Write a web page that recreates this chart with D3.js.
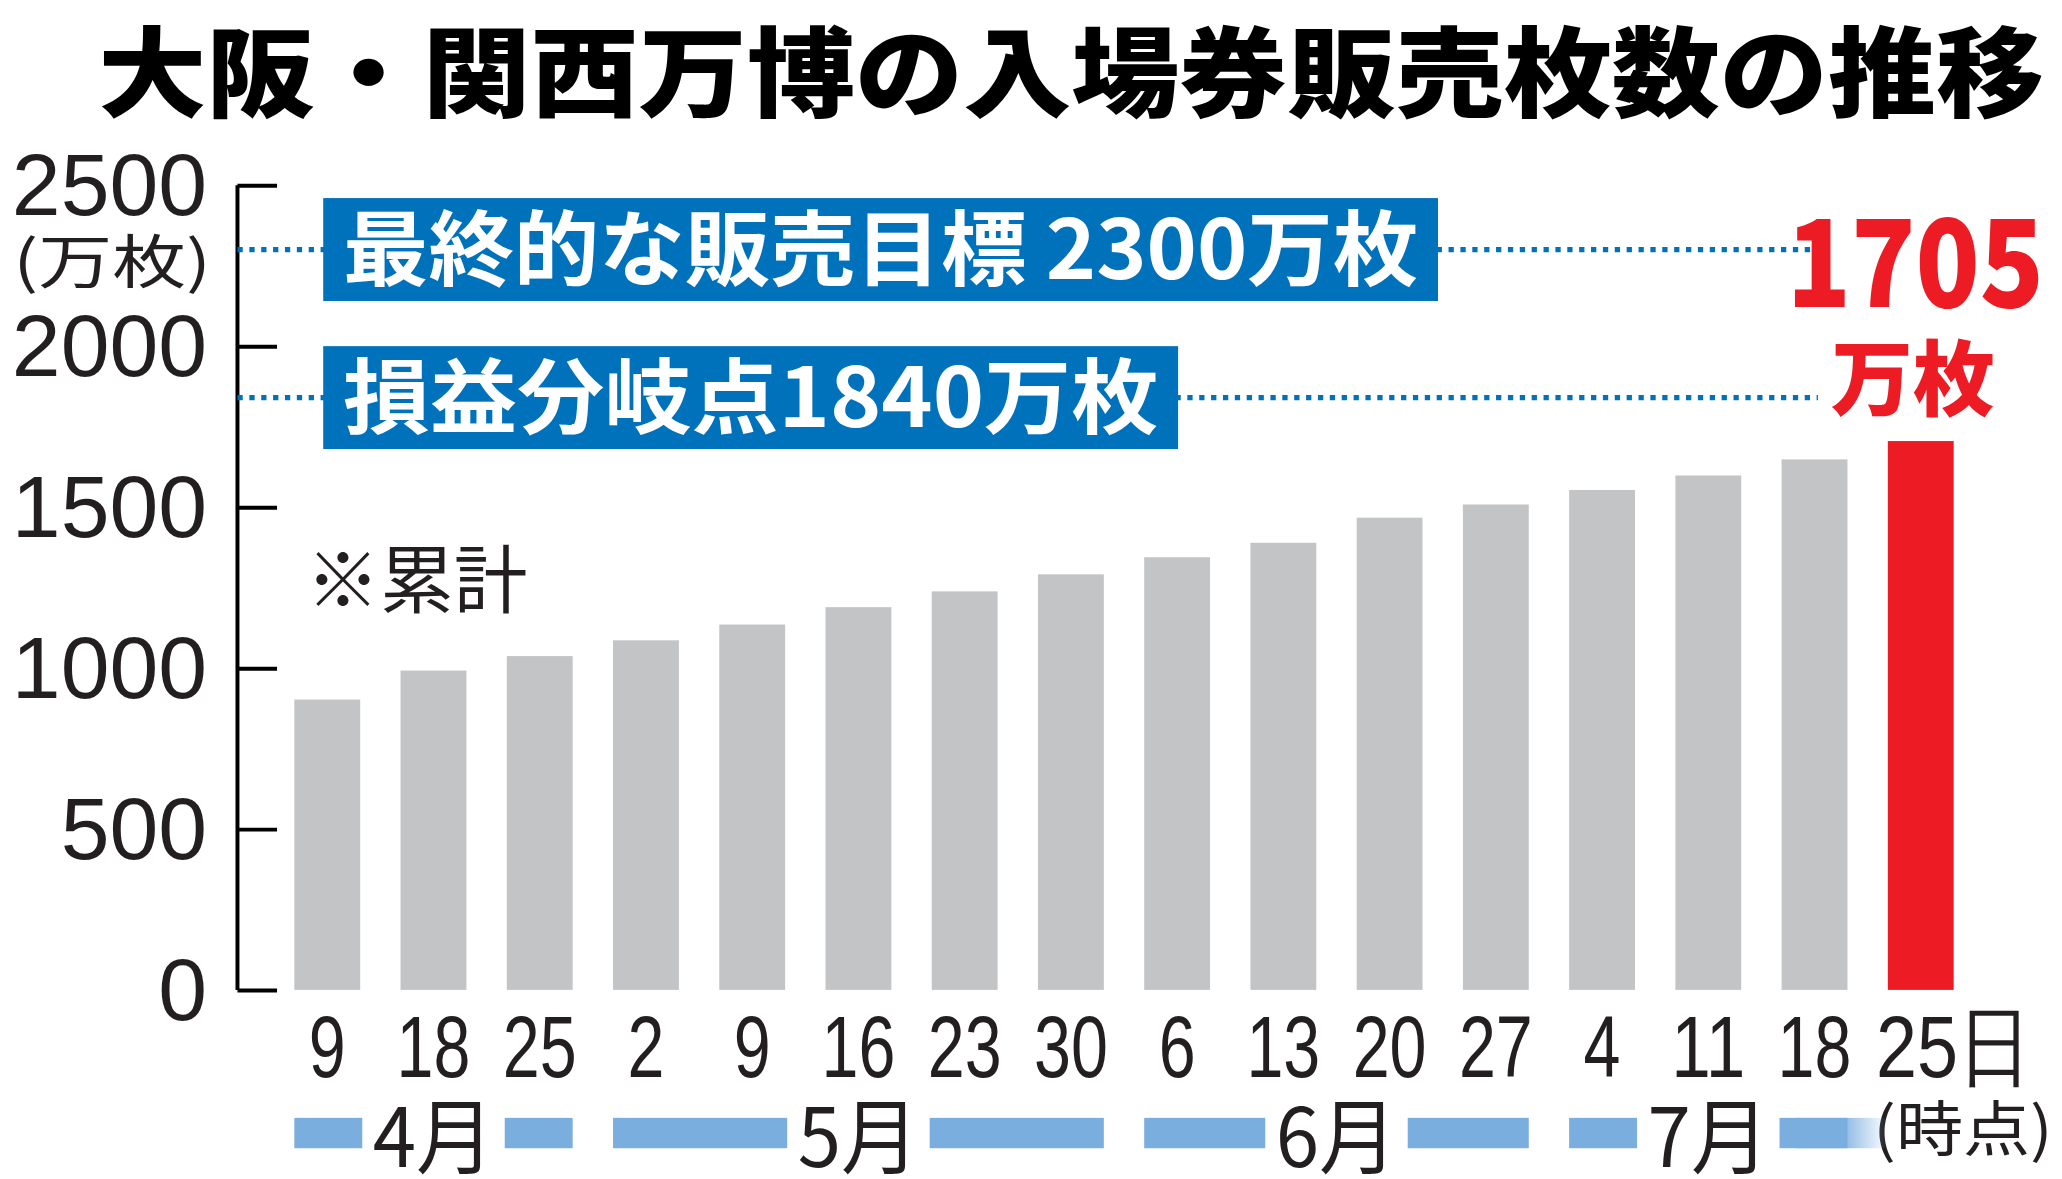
<!DOCTYPE html>
<html>
<head>
<meta charset="utf-8">
<script src="https://d3js.org/d3.v7.min.js"></script>
<style>
  body { margin: 0; background: #fff; }
  .jp { font-family: "Noto Sans CJK JP", sans-serif; }
  .num { font-family: "Liberation Sans", "DejaVu Sans", sans-serif; }
</style>
</head>
<body>
<div id="chart"></div>
<script>
const days = ["9", "18", "25", "2", "9", "16", "23", "30", "6", "13", "20", "27", "4", "11", "18", "25日"];
const sales = [902, 992, 1037, 1086, 1135, 1189, 1238, 1291, 1344, 1389, 1467, 1508, 1553, 1598, 1648, 1705];
const yTicks = [0, 500, 1000, 1500, 2000, 2500];
const targets = [
    { value: 2300, label: "最終的な販売目標 2300万枚" },
    { value: 1840, label: "損益分岐点1840万枚" }
];
const months = [
    { label: "4月", from: 0, to: 2 },
    { label: "5月", from: 3, to: 7 },
    { label: "6月", from: 8, to: 11 },
    { label: "7月", from: 12, to: 14 }
];

const W = 1563, H = 893;
const svg = d3.select("#chart").append("svg")
    .attr("width", 2062).attr("height", 1179)
    .attr("viewBox", `0 0 ${W} ${H}`);

const x = d3.scaleBand().domain(d3.range(days.length)).range([207, 1497]).paddingInner(0.38).paddingOuter(0.2);
const y = d3.scaleLinear().domain([0, 2500]).range([750, 140]);

// title
svg.append("text").attr("class", "jp").attr("x", 812).attr("y", 82)
    .attr("text-anchor", "middle").attr("font-size", 74).attr("font-weight", 900)
    .attr("textLength", 1475).attr("lengthAdjust", "spacingAndGlyphs")
    .text("大阪・関西万博の入場券販売枚数の推移");

// bars
svg.selectAll("rect.bar").data(sales).enter().append("rect")
    .attr("x", (d, i) => x(i)).attr("width", x.bandwidth())
    .attr("y", d => y(d)).attr("height", d => y(0) - y(d))
    .attr("fill", (d, i) => i === sales.length - 1 ? "#ed1c24" : "#c3c4c6");

// y axis
const axis = svg.append("g").attr("transform", "translate(180,0)")
    .call(d3.axisRight(y).tickValues(yTicks).tickSize(30).tickFormat(""));
axis.select(".domain").attr("d", `M0,${y(2500)}V${y(0)}`).attr("stroke-width", 3);
axis.selectAll(".tick line").attr("stroke-width", 3);
svg.selectAll("text.ylab").data(yTicks).enter().append("text")
    .attr("class", "num").attr("x", 157).attr("y", d => y(d) + 23)
    .attr("text-anchor", "end").attr("font-size", 66).attr("fill", "#231f20")
    .attr("textLength", d => String(d).length * 37).attr("lengthAdjust", "spacingAndGlyphs")
    .text(d => d);
svg.append("text").attr("class", "jp").attr("x", 85).attr("y", 214)
    .attr("text-anchor", "middle").attr("font-size", 44).attr("fill", "#231f20")
    .attr("textLength", 150).attr("lengthAdjust", "spacingAndGlyphs")
    .text("(万枚)");

// target lines and labels
const boxRight = [1090, 893];
targets.forEach((t, i) => {
    const yy = y(t.value);
    svg.append("line").attr("x1", 180).attr("x2", 1378).attr("y1", yy).attr("y2", yy)
        .attr("stroke", "#0072bc").attr("stroke-width", 4).attr("stroke-dasharray", "4,5");
    svg.append("rect").attr("x", 245).attr("y", yy - 39).attr("width", boxRight[i] - 245).attr("height", 78)
        .attr("fill", "#0072bc");
    svg.append("text").attr("class", "jp").attr("x", 260).attr("y", yy + 22)
        .attr("font-size", 62).attr("font-weight", 700).attr("fill", "#fff")
        .attr("textLength", boxRight[i] - 275).attr("lengthAdjust", "spacingAndGlyphs")
        .text(t.label);
});

// last value
const lastX = x(sales.length - 1) + x.bandwidth() / 2;
svg.append("text").attr("class", "jp").attr("x", lastX - 4).attr("y", 232)
    .attr("text-anchor", "middle").attr("font-size", 92).attr("font-weight", 900).attr("fill", "#ed1c24")
    .attr("textLength", 195).attr("lengthAdjust", "spacingAndGlyphs")
    .text(sales[sales.length - 1]);
svg.append("text").attr("class", "jp").attr("x", lastX - 6).attr("y", 310)
    .attr("text-anchor", "middle").attr("font-size", 62).attr("font-weight", 900).attr("fill", "#ed1c24")
    .text("万枚");

svg.append("text").attr("class", "jp").attr("x", 232).attr("y", 460)
    .attr("font-size", 56).attr("fill", "#231f20").text("※累計");

// x labels
svg.selectAll("text.xlab").data(days).enter().append("text")
    .attr("class", "num").attr("x", (d, i) => x(i) + x.bandwidth() / 2 + (i === days.length - 1 ? 25 : 0))
    .attr("y", 816).attr("text-anchor", "middle").attr("font-size", 66).attr("fill", "#231f20")
    .attr("textLength", (d, i) => i === days.length - 1 ? 118 : d.length * 28)
    .attr("lengthAdjust", "spacingAndGlyphs")
    .text(d => d);
svg.append("text").attr("class", "jp").attr("x", 1488).attr("y", 872)
    .attr("text-anchor", "middle").attr("font-size", 46).attr("fill", "#231f20")
    .attr("textLength", 136).attr("lengthAdjust", "spacingAndGlyphs").text("(時点)");

// month bands
const grad = svg.append("defs").append("linearGradient").attr("id", "fade");
grad.append("stop").attr("offset", "0%").attr("stop-color", "#7aaedf");
grad.append("stop").attr("offset", "45%").attr("stop-color", "#7aaedf");
grad.append("stop").attr("offset", "100%").attr("stop-color", "#7aaedf").attr("stop-opacity", 0);
months.forEach(m => {
    const x0 = x(m.from), x1 = x(m.to) + x.bandwidth();
    const cx = (x0 + x1) / 2, half = 54;
    svg.append("rect").attr("x", x0).attr("y", 847).attr("width", cx - half - x0).attr("height", 23).attr("fill", "#7aaedf");
    svg.append("rect").attr("x", cx + half).attr("y", 847).attr("width", x1 - cx - half).attr("height", 23).attr("fill", "#7aaedf");
    svg.append("text").attr("class", "jp").attr("x", cx).attr("y", 884)
        .attr("text-anchor", "middle").attr("font-size", 62).attr("fill", "#231f20")
        .attr("textLength", 92).attr("lengthAdjust", "spacingAndGlyphs").text(m.label);
});
svg.append("rect").attr("x", x(15) - 70).attr("y", 847).attr("width", 70).attr("height", 23).attr("fill", "url(#fade)");
</script>
</body>
</html>
